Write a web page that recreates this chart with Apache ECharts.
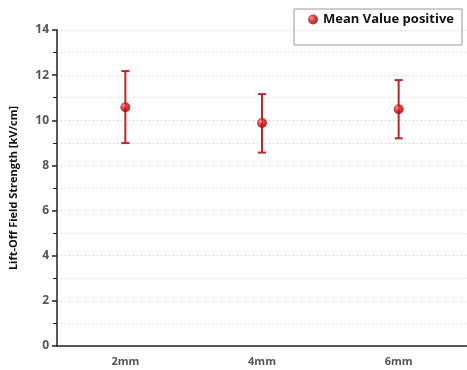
<!DOCTYPE html>
<html>
<head>
<meta charset="utf-8">
<script src="https://cdn.jsdelivr.net/npm/echarts@6/dist/echarts.min.js"></script>
<style>
  html, body { margin: 0; padding: 0; background: #fff; }
  #chart { width: 467px; height: 370px; }
</style>
</head>
<body>
<div id="chart"></div>
<script>
// data
var categories = ['2mm', '4mm', '6mm'];
var meanValues = [10.58, 9.88, 10.49];
var lowValues = [8.99, 8.57, 9.2];
var highValues = [12.18, 11.16, 11.78];

var errorData = categories.map(function (c, i) {
    return [i, lowValues[i], highValues[i]];
});

var myChart = echarts.init(document.getElementById('chart'));

var option = {
    animation: false,
    grid: { left: 57, right: -2, top: 30, bottom: 24 },
    legend: {
        right: 5, top: 9,
        width: 164, height: 30,
        padding: [4, 8, 19, 14],
        borderColor: '#999', borderWidth: 1,
        itemWidth: 10, itemHeight: 10,
        itemGap: 6,
        textStyle: { fontFamily: 'Open Sans', fontWeight: 'bold', fontSize: 13, color: '#111' },
        data: [{ name: 'Mean Value positive', icon: 'circle' }]
    },
    xAxis: {
        type: 'category',
        data: categories,
        boundaryGap: true,
        axisLine: { lineStyle: { color: '#222', width: 1.5 } },
        axisTick: { alignWithLabel: true, length: 5, lineStyle: { color: '#222', width: 1.5 } },
        axisLabel: { color: '#555', fontFamily: 'Open Sans', fontWeight: 'bold', fontSize: 11, margin: 10 }
    },
    yAxis: {
        type: 'value',
        min: 0, max: 14, interval: 2,
        name: 'Lift-Off Field Strength [kV/cm]',
        nameLocation: 'middle',
        nameGap: 38,
        nameTextStyle: { fontFamily: 'Open Sans', fontWeight: 'bold', fontSize: 11, color: '#111' },
        axisLine: { show: true, lineStyle: { color: '#222', width: 1.5 } },
        axisTick: { show: true, length: 5, lineStyle: { color: '#222', width: 1.5 } },
        minorTick: { show: true, splitNumber: 2, length: 4, lineStyle: { color: '#222', width: 1 } },
        axisLabel: { color: '#555', fontFamily: 'Open Sans', fontWeight: 'bold', fontSize: 12, margin: 8 },
        splitLine: { show: true, lineStyle: { color: '#c4c4c4', type: [1, 3], width: 1 } },
        minorSplitLine: { show: true, lineStyle: { color: '#c4c4c4', type: [1, 3], width: 1 } }
    },
    series: [
        {
            name: 'error',
            type: 'custom',
            data: errorData,
            z: 2,
            renderItem: function (params, api) {
                var x = api.value(0);
                var lo = api.coord([x, api.value(1)]);
                var hi = api.coord([x, api.value(2)]);
                var hw = 4;
                var style = { stroke: '#b8282a', lineWidth: 2 };
                return {
                    type: 'group',
                    children: [
                        { type: 'line', shape: { x1: hi[0], y1: hi[1], x2: lo[0], y2: lo[1] }, style: style },
                        { type: 'line', shape: { x1: hi[0] - hw, y1: hi[1], x2: hi[0] + hw, y2: hi[1] }, style: style },
                        { type: 'line', shape: { x1: lo[0] - hw, y1: lo[1], x2: lo[0] + hw, y2: lo[1] }, style: style }
                    ]
                };
            }
        },
        {
            name: 'Mean Value positive',
            type: 'scatter',
            data: meanValues,
            symbol: 'circle',
            symbolSize: 10,
            z: 3,
            itemStyle: {
                color: new echarts.graphic.RadialGradient(0.35, 0.35, 0.7, [
                    { offset: 0, color: '#ff8a8a' },
                    { offset: 0.4, color: '#e01010' },
                    { offset: 1, color: '#8a0000' }
                ])
            }
        }
    ]
};

myChart.setOption(option);
</script>
</body>
</html>
